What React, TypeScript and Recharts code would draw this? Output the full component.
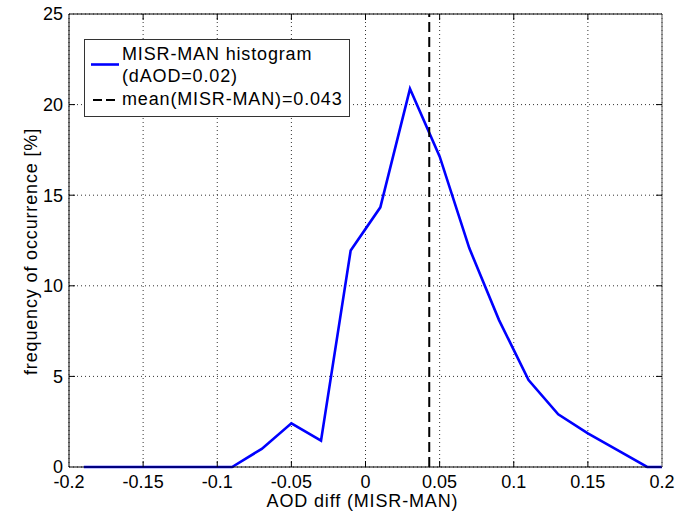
import React from 'react';
import {
  LineChart,
  Line,
  XAxis,
  YAxis,
  CartesianGrid,
  ReferenceLine,
  Legend
} from 'recharts';

// histogram bin centres (dAOD = 0.02) and frequency in %
const aodBins = [
  -0.19, -0.17, -0.15, -0.13, -0.11, -0.09, -0.07, -0.05, -0.03, -0.01,
  0.01, 0.03, 0.05, 0.07, 0.09, 0.11, 0.13, 0.15, 0.17, 0.19, 0.21
];
const freqPct = [
  0, 0, 0, 0, 0, 0, 1.0, 2.41, 1.45, 11.95,
  14.33, 20.87, 17.14, 12.08, 8.12, 4.8, 2.91, 1.86, 0.93, 0, 0
];
const meanDiff = 0.043;

const xTicks = [-0.2, -0.15, -0.1, -0.05, 0, 0.05, 0.1, 0.15, 0.2];
const xTickLabels = ['-0.2', '-0.15', '-0.1', '-0.05', '0', '0.05', '0.1', '0.15', '0.2'];
const yTicks = [0, 5, 10, 15, 20, 25];
const yTickLabels = ['0', '5', '10', '15', '20', '25'];

const seriesName = ['MISR-MAN histogram', '(dAOD=0.02)'];
const meanName = 'mean(MISR-MAN)=0.043';
const xTitle = 'AOD diff (MISR-MAN)';
const yTitle = 'frequency of occurrence [%]';

const data = aodBins.map((x, i) => ({ x, y: freqPct[i] }));

const FONT = '"Liberation Sans", Arial, Helvetica, sans-serif';
const TICK = 6;

// no inner tick where it would sit on the frame itself
const isEdge = (i: number, n: number) => i === 0 || i === n - 1;

const BottomTick = (props: any) => {
  const { x, y, payload, index } = props;
  return (
    <g>
      {!isEdge(index, xTicks.length) && <line x1={x} y1={y} x2={x} y2={y - TICK} stroke="#000" />}
      <text x={x} y={y + 21} textAnchor="middle" fontFamily={FONT} fontSize={18} fill="#000">
        {xTickLabels[index] ?? String(payload.value)}
      </text>
    </g>
  );
};

const TopTick = (props: any) => {
  const { x, y, index } = props;
  if (isEdge(index, xTicks.length)) return <g />;
  return <line x1={x} y1={y} x2={x} y2={y + TICK} stroke="#000" />;
};

const LeftTick = (props: any) => {
  const { x, y, payload, index } = props;
  return (
    <g>
      {!isEdge(index, yTicks.length) && <line x1={x} y1={y} x2={x + TICK} y2={y} stroke="#000" />}
      <text x={x - 6} y={y} dy="0.36em" textAnchor="end" fontFamily={FONT} fontSize={18} fill="#000">
        {yTickLabels[index] ?? String(payload.value)}
      </text>
    </g>
  );
};

const RightTick = (props: any) => {
  const { x, y, index } = props;
  if (isEdge(index, yTicks.length)) return <g />;
  return <line x1={x} y1={y} x2={x - TICK} y2={y} stroke="#000" />;
};

const LegendBox = () => (
  <svg width={266} height={78} style={{ display: 'block' }}>
    <rect x={0.5} y={0.5} width={265} height={77} fill="#fff" stroke="#333" />
    <line x1={7} y1={25.5} x2={35} y2={25.5} stroke="#0000ff" strokeWidth={2.6} />
    <text x={38} y={20.5} fontFamily={FONT} fontSize={18} letterSpacing={0.85} fill="#000">
      {seriesName[0]}
    </text>
    <text x={38} y={43} fontFamily={FONT} fontSize={18} letterSpacing={0.85} fill="#000">
      {seriesName[1]}
    </text>
    <line x1={9} y1={61} x2={35} y2={61} stroke="#000" strokeWidth={2} strokeDasharray="9 4" />
    <text x={38} y={65.5} fontFamily={FONT} fontSize={18} letterSpacing={0.85} fill="#000">
      {meanName}
    </text>
  </svg>
);

const App: React.FC = () => {
  return (
    <div style={{ position: 'absolute', left: 0, top: 0, width: 692, height: 516, background: '#fff' }}>
      <LineChart
        width={692}
        height={516}
        data={data}
        margin={{ top: 13, right: 29, bottom: 48, left: 68 }}
      >
        <CartesianGrid stroke="#333" strokeDasharray="1 3" horizontalValues={yTicks} verticalValues={xTicks} />
        <XAxis
          dataKey="x"
          type="number"
          domain={[-0.2, 0.2]}
          ticks={xTicks}
          interval={0}
          allowDataOverflow
          height={1}
          tickSize={0}
          tickMargin={0}
          tickLine={false}
          axisLine={{ stroke: '#000' }}
          tick={<BottomTick />}
          label={{
            content: (p: any) => {
              const vb = p.viewBox;
              return (
                <text
                  x={vb.x + vb.width / 2 - 3}
                  y={vb.y + 40}
                  textAnchor="middle"
                  fontFamily={FONT}
                  fontSize={18}
                  letterSpacing={0.85}
                  fill="#000"
                >
                  {xTitle}
                </text>
              );
            }
          }}
        />
        <XAxis
          xAxisId="top"
          orientation="top"
          dataKey="x"
          type="number"
          domain={[-0.2, 0.2]}
          ticks={xTicks}
          interval={0}
          allowDataOverflow
          height={1}
          tickSize={0}
          tickMargin={0}
          tickLine={false}
          axisLine={{ stroke: '#000' }}
          tick={<TopTick />}
        />
        <YAxis
          type="number"
          domain={[0, 25]}
          ticks={yTicks}
          interval={0}
          width={1}
          tickSize={0}
          tickMargin={0}
          tickLine={false}
          axisLine={{ stroke: '#000' }}
          tick={<LeftTick />}
          label={{
            content: (p: any) => {
              const vb = p.viewBox;
              const cx = vb.x + vb.width - 32;
              const cy = vb.y + vb.height / 2 + 11;
              return (
                <text
                  x={cx}
                  y={cy}
                  transform={`rotate(-90 ${cx} ${cy})`}
                  textAnchor="middle"
                  fontFamily={FONT}
                  fontSize={18}
                  letterSpacing={0.85}
                  fill="#000"
                >
                  {yTitle}
                </text>
              );
            }
          }}
        />
        <YAxis
          yAxisId="right"
          orientation="right"
          dataKey="y"
          type="number"
          domain={[0, 25]}
          ticks={yTicks}
          interval={0}
          allowDataOverflow
          width={1}
          tickSize={0}
          tickMargin={0}
          tickLine={false}
          axisLine={{ stroke: '#555' }}
          tick={<RightTick />}
        />
        <Line
          type="linear"
          dataKey="y"
          stroke="#0000ff"
          strokeWidth={2.6}
          dot={false}
          activeDot={false}
          isAnimationActive={false}
        />
        <ReferenceLine x={meanDiff} stroke="#000" strokeWidth={2} strokeDasharray="10 5" />
        <Legend
          layout="vertical"
          align="center"
          verticalAlign="middle"
          content={() => <LegendBox />}
          wrapperStyle={{ left: 84, top: 39, width: 266, height: 78 }}
        />
      </LineChart>
    </div>
  );
};

export default App;
